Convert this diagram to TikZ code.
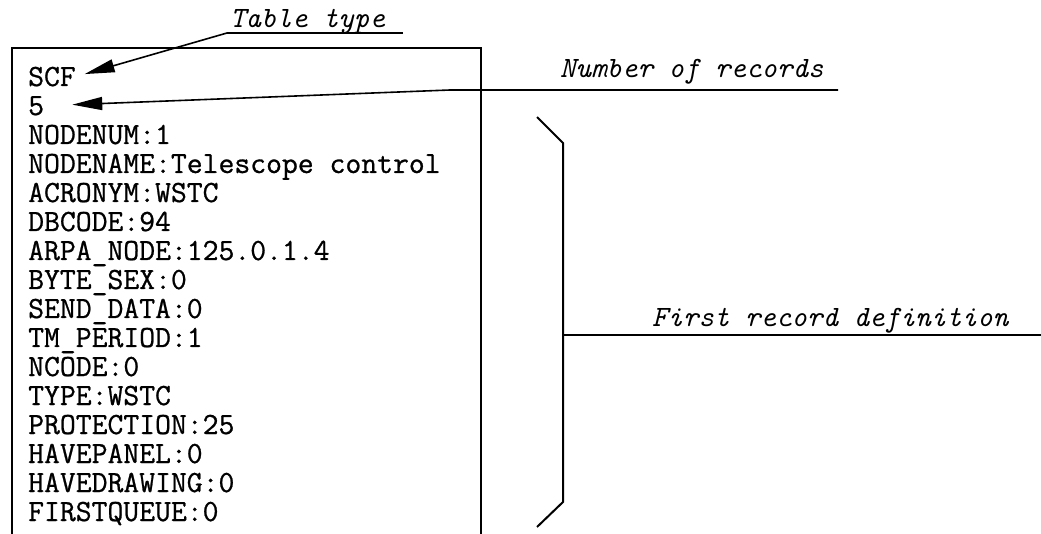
\documentclass[tikz,border=0pt]{standalone}
\usepackage{fontspec}
\newfontfamily\courlike[FakeBold=0.8]{Latin Modern Mono}
\newfontfamily\courlikeit[FakeBold=0.6]{Latin Modern Mono Slanted}
\usetikzlibrary{arrows.meta}
\begin{document}
\begin{tikzpicture}[x=1pt,y=-1pt,
  rec/.style={anchor=base west,inner sep=0pt,font=\fontsize{30.8}{30}\selectfont\courlike},
  lab/.style={anchor=base west,inner sep=0pt,font=\fontsize{29.5}{30}\selectfont\ttfamily\itshape},
  ln/.style={line width=1.6pt},
  brc/.style={line width=2pt},
  arr/.style={line width=1.6pt,-{Triangle[length=30pt,width=13pt]}}]
\useasboundingbox (0,0) rectangle (1041,534);
% box
\draw[ln] (12,534) -- (12,48) -- (481,48) -- (481,534);
% listing
\node[rec] (l1) at (28,86) {SCF};
\node[rec] (l2) at (28,115) {5};
\node[rec] (l3) at (28,144) {NODENUM:1};
\node[rec] (l4) at (28,173) {NODENAME:Telescope control};
\node[rec] (l5) at (28,202) {ACRONYM:WSTC};
\node[rec] (l6) at (28,231) {DBCODE:94};
\node[rec] (l7) at (28,260) {ARPA\_NODE:125.0.1.4};
\node[rec] (l8) at (28,289) {BYTE\_SEX:0};
\node[rec] (l9) at (28,318) {SEND\_DATA:0};
\node[rec] (l10) at (28,347) {TM\_PERIOD:1};
\node[rec] (l11) at (28,376) {NCODE:0};
\node[rec] (l12) at (28,405) {TYPE:WSTC};
\node[rec] (l13) at (28,434) {PROTECTION:25};
\node[rec] (l14) at (28,463) {HAVEPANEL:0};
\node[rec] (l15) at (28,492) {HAVEDRAWING:0};
\node[rec] (l16) at (28,521) {FIRSTQUEUE:0};
% labels
\node[lab] (tt) at (230,28) {Table type};
\node[lab] (nr) at (560,78) {Number of records};
\node[lab] (fr) at (652,327) {First record definition};
% Table type
\coordinate (ttL) at (227,33);
\coordinate (ttR) at (403,33);
\draw[ln] (ttR) -- (ttL);
\draw[arr,shorten >=9pt] (ttL) -- (l1.east);
% Number of records
\coordinate (nrR) at (838,90);
\coordinate (nrB) at (450,90);
\draw[arr,shorten >=28pt] (nrR) -- (nrB) -- (l2.east);
% brace
\coordinate (b1) at (537,117);
\coordinate (b2) at (563,143);
\coordinate (b3) at (563,502);
\coordinate (b4) at (537,527);
\coordinate (bm) at (563,335);
\coordinate (be) at (1041,335);
\draw[brc] (b1) -- (b2) -- (b3) -- (b4);
\draw[brc] (bm) -- (be);
\end{tikzpicture}
\end{document}
